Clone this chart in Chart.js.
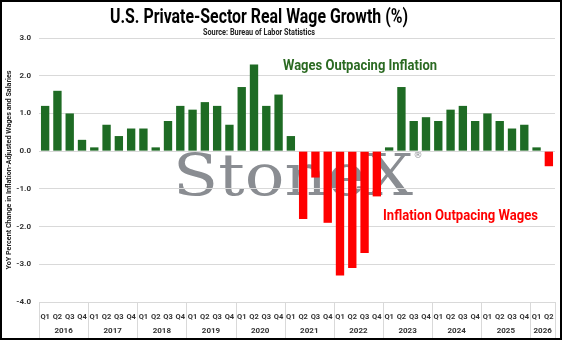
<!DOCTYPE html>
<html>
<head>
<meta charset="utf-8">
<script src="https://cdn.jsdelivr.net/npm/chart.js@4"></script>
<style>
  html, body { margin: 0; padding: 0; background: #fff; }
  canvas { display: block; }
</style>
</head>
<body>
<canvas id="wages" width="562" height="340"></canvas>
<script>
// data
const years = ['2016', '2017', '2018', '2019', '2020', '2021', '2022', '2023', '2024', '2025', '2026'];
const quarters = [
  'Q1', 'Q2', 'Q3', 'Q4', 'Q1', 'Q2', 'Q3', 'Q4', 'Q1', 'Q2', 'Q3', 'Q4',
  'Q1', 'Q2', 'Q3', 'Q4', 'Q1', 'Q2', 'Q3', 'Q4', 'Q1', 'Q2', 'Q3', 'Q4',
  'Q1', 'Q2', 'Q3', 'Q4', 'Q1', 'Q2', 'Q3', 'Q4', 'Q1', 'Q2', 'Q3', 'Q4',
  'Q1', 'Q2', 'Q3', 'Q4', 'Q1', 'Q2'
];
const realWageGrowth = [
  1.2, 1.6, 1.0, 0.3,
  0.1, 0.7, 0.4, 0.6,
  0.6, 0.1, 0.8, 1.2,
  1.1, 1.3, 1.2, 0.7,
  1.7, 2.3, 1.2, 1.5,
  0.4, -1.8, -0.7, -1.9,
  -3.3, -3.1, -2.7, -1.2,
  0.1, 1.7, 0.8, 0.9,
  0.8, 1.1, 1.2, 0.8,
  1.0, 0.8, 0.6, 0.7,
  0.1, -0.4
];
const yTicks = [3, 2, 1, 0, -1, -2, -3, -4];

const GREEN = '#1e6b24';
const RED = '#ff0000';
const GRID = '#d9d9d9';
const SANS = "Roboto, 'Liberation Sans', sans-serif";

// draw text squeezed to a given width (the original uses a narrow face)
function fitText(ctx, text, x, y, width, align) {
  const w = ctx.measureText(text).width;
  const k = Math.min(1, width / w);
  ctx.save();
  ctx.translate(x, y);
  ctx.scale(k, 1);
  ctx.textAlign = align;
  ctx.textBaseline = 'middle';
  ctx.fillText(text, 0, 0);
  ctx.restore();
}

// white background, titles and StoneX watermark behind the grid
const backdrop = {
  id: 'backdrop',
  beforeDraw(chart) {
    const ctx = chart.ctx;
    ctx.save();
    ctx.fillStyle = '#fff';
    ctx.fillRect(0, 0, chart.width, chart.height);

    ctx.fillStyle = '#000';
    ctx.font = 'bold 20px ' + SANS;
    fitText(ctx, 'U.S. Private-Sector Real Wage Growth (%)', 259, 17.5, 298, 'center');
    ctx.fillStyle = '#222';
    ctx.font = 'bold 8.5px ' + SANS;
    fitText(ctx, 'Source: Bureau of Labor Statistics', 259, 33, 112, 'center');

    ctx.fillStyle = '#8a8d92';
    ctx.font = "58px 'DejaVu Serif', 'Liberation Serif', serif";
    ctx.textBaseline = 'alphabetic';
    ctx.textAlign = 'left';
    const w = ctx.measureText('StoneX').width;
    ctx.save();
    ctx.translate(173, 195);
    ctx.scale(240 / w, 1);
    ctx.fillText('StoneX', 0, 0);
    ctx.restore();
    ctx.font = "9px 'DejaVu Sans', sans-serif";
    ctx.textAlign = 'center';
    ctx.textBaseline = 'middle';
    ctx.fillText('\u00AE', 418, 156);
    ctx.restore();
  }
};

// year row under the quarter labels, separators, notes and frame
const yearRow = {
  id: 'yearRow',
  afterDraw(chart) {
    const x = chart.scales.x;
    const ctx = chart.ctx;
    const half = (x.getPixelForValue(1) - x.getPixelForValue(0)) / 2;
    const top = chart.chartArea.bottom;
    ctx.save();
    ctx.strokeStyle = GRID;
    ctx.lineWidth = 1;
    ctx.fillStyle = '#333';
    ctx.font = 'bold 8px ' + SANS;
    ctx.textAlign = 'center';
    ctx.textBaseline = 'middle';
    years.forEach((yr, i) => {
      const first = i * 4;
      const last = Math.min(first + 3, quarters.length - 1);
      const left = x.getPixelForValue(first) - half;
      const right = x.getPixelForValue(last) + half;
      ctx.beginPath();
      ctx.moveTo(Math.round(left) + 0.5, top);
      ctx.lineTo(Math.round(left) + 0.5, 338);
      ctx.stroke();
      if (last === quarters.length - 1) {
        ctx.beginPath();
        ctx.moveTo(Math.round(right) + 0.5, top);
        ctx.lineTo(Math.round(right) + 0.5, 338);
        ctx.stroke();
      }
      ctx.fillText(yr, (left + right) / 2, 330.5);
    });
    ctx.restore();

    ctx.save();
    ctx.font = 'bold 15px ' + SANS;
    ctx.fillStyle = '#2b6a22';
    fitText(ctx, 'Wages Outpacing Inflation', 283, 66.5, 154, 'left');
    ctx.fillStyle = RED;
    fitText(ctx, 'Inflation Outpacing Wages', 383, 216.5, 155, 'left');
    ctx.restore();

    ctx.save();
    ctx.strokeStyle = '#000';
    ctx.lineWidth = 2;
    ctx.strokeRect(1, 1, chart.width - 2, chart.height - 2);
    ctx.restore();
  }
};

new Chart(document.getElementById('wages'), {
  type: 'bar',
  data: {
    labels: quarters,
    datasets: [{
      data: realWageGrowth,
      backgroundColor: realWageGrowth.map(v => v < 0 ? RED : GREEN),
      borderWidth: 0,
      categoryPercentage: 1,
      barPercentage: 0.68
    }]
  },
  options: {
    responsive: false,
    animation: false,
    devicePixelRatio: 1,
    layout: { padding: { left: 5, right: 7, top: 38, bottom: 2 } },
    plugins: {
      legend: { display: false },
      tooltip: { enabled: false },
      title: { display: false }
    },
    scales: {
      x: {
        grid: { display: false },
        border: { display: false },
        ticks: {
          color: '#333',
          font: { family: SANS, size: 7.5, weight: 'bold' },
          autoSkip: false,
          maxRotation: 0,
          padding: 3
        },
        afterFit(scale) { scale.height = 36; }
      },
      y: {
        min: -4,
        max: 3,
        afterBuildTicks(scale) { scale.ticks = yTicks.map(v => ({ value: v })); },
        grid: { color: GRID, drawTicks: false },
        border: { display: false },
        ticks: {
          color: '#333',
          font: { family: SANS, size: 8, weight: 'bold' },
          padding: 8,
          callback: v => v.toFixed(1)
        },
        title: {
          display: true,
          text: 'YoY Percent Change in Inflation-Adjusted Wages and Salaries',
          color: '#222',
          font: { family: SANS, size: 7.2, weight: 'bold' },
          padding: 0
        },
        afterFit(scale) { scale.width = 34; }
      }
    }
  },
  plugins: [backdrop, yearRow]
});
</script>
</body>
</html>
